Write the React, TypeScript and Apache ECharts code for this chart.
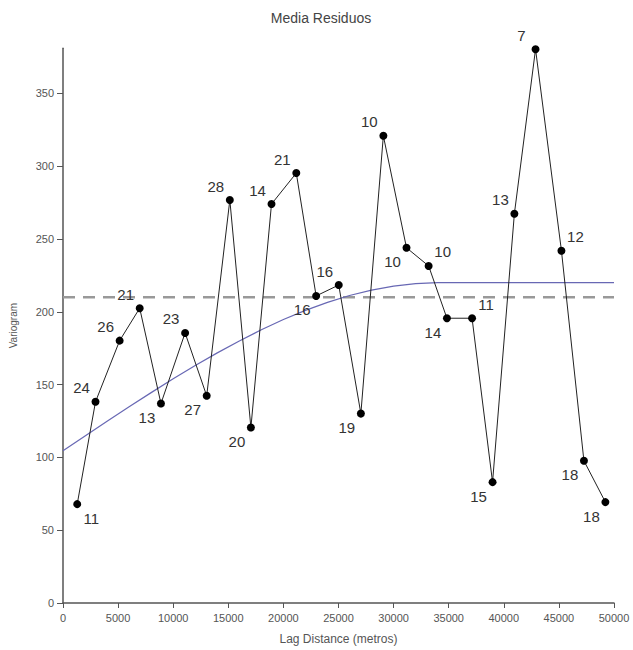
import React, { useEffect, useRef } from "react";
import * as echarts from "echarts";

// Experimental variogram
const lagDistance = [1290, 2950, 5140, 6960, 8890, 11080, 13040, 15140, 17050, 18920, 21170, 22970, 25020, 27030, 29070, 31170, 33180, 34840, 37120, 38980, 40960, 42880, 45230, 47270, 49220];
const semivariance = [67.9, 138.2, 180.2, 202.5, 137, 185.5, 142.3, 276.8, 120.5, 274, 295.3, 210.9, 218.4, 130.1, 320.9, 244, 231.5, 195.6, 195.6, 83, 267.4, 380.4, 242, 97.7, 69.3];
const pairCounts = [11, 24, 26, 21, 13, 23, 27, 28, 20, 14, 21, 16, 16, 19, 10, 10, 10, 14, 11, 15, 13, 7, 12, 18, 18];

// Fitted model curve
const modelLag = [0, 2000, 4000, 6000, 8000, 10000, 12000, 14000, 16000, 18000, 20000, 22000, 24000, 26000, 28000, 30000, 32000, 34000, 40000, 45000, 50000];
const modelGamma = [104.5, 114.7, 124.8, 134.8, 144.5, 154, 163.1, 171.8, 180, 187.7, 194.7, 201, 206.5, 211.2, 214.9, 217.7, 219.4, 220, 220, 220, 220];

// Sample variance (dashed line)
const sillLag = [0, 50000];
const sillGamma = [210, 210];

// Axis ticks
const yTicks = [0, 50, 100, 150, 200, 250, 300, 350];
const xTicks = [0, 5000, 10000, 15000, 20000, 25000, 30000, 35000, 40000, 45000, 50000];
const yMax = 381;

// Label placement around each point (layout only)
const LABEL_DIRS = ["dr", "ul", "ul", "ul", "dl", "ul", "dl", "ul", "dl", "ul", "ul", "dl", "ul", "dl", "ul", "dl", "ur", "dl", "ur", "dl", "ul", "ul", "ur", "dl", "dl"];
const DIR_OFFSETS: Record<string, number[]> = {
  ul: [-14, -14],
  dl: [-14, 14],
  ur: [14, -14],
  dr: [14, 14],
};
const SYMBOL = 8;

export default function App() {
  const ref = useRef<HTMLDivElement>(null);

  useEffect(() => {
    if (!ref.current) return;
    const chart = echarts.init(ref.current, null, { renderer: "svg" });
    const font = "'Liberation Sans', Arial, sans-serif";

    const pointData = lagDistance.map((x, i) => {
      const off = DIR_OFFSETS[LABEL_DIRS[i]];
      return {
        value: [x, semivariance[i]],
        label: {
          show: true,
          position: [SYMBOL / 2 + off[0], SYMBOL / 2 + off[1]],
          align: "center",
          verticalAlign: "middle",
          color: "#333",
          fontSize: 15,
          fontFamily: font,
          formatter: String(pairCounts[i]),
        },
      };
    });

    chart.setOption({
      animation: false,
      backgroundColor: "#ffffff",
      textStyle: { fontFamily: font },
      graphic: [
        {
          type: "text",
          x: 321,
          y: 18,
          style: {
            text: "Media Residuos",
            fontSize: 14,
            fontFamily: font,
            fill: "#444",
            textAlign: "center",
            textVerticalAlign: "middle",
          },
        },
      ],
      grid: { left: 59, right: 19, top: 48.3, bottom: 46.7, containLabel: false },
      xAxis: {
        type: "value",
        min: 0,
        max: 50000,
        interval: 5000,
        name: "Lag Distance (metros)",
        nameLocation: "middle",
        nameGap: 30,
        nameTextStyle: { fontSize: 12, color: "#555", fontFamily: font },
        axisLine: { show: true, onZero: false, lineStyle: { color: "#555", width: 1.5 } },
        axisTick: { show: true, length: 5, lineStyle: { color: "#555" }, customValues: xTicks },
        axisLabel: {
          fontSize: 11,
          color: "#555",
          margin: 9,
          customValues: xTicks,
          fontFamily: font,
          formatter: (v: number) => String(v),
        },
        splitLine: { show: false },
      },
      yAxis: {
        type: "value",
        min: 0,
        max: yMax,
        name: "Variogram",
        nameLocation: "middle",
        nameGap: 45,
        nameTextStyle: { fontSize: 10, color: "#555", fontFamily: font },
        axisLine: { show: true, onZero: false, lineStyle: { color: "#555", width: 1.5 } },
        axisTick: { show: true, length: 6, lineStyle: { color: "#555" }, customValues: yTicks },
        axisLabel: {
          fontSize: 11,
          color: "#555",
          margin: 9,
          customValues: yTicks,
          fontFamily: font,
          formatter: (v: number) => String(v),
        },
        splitLine: { show: false },
      },
      series: [
        {
          name: "sill",
          type: "line",
          data: sillLag.map((x, i) => [x, sillGamma[i]]),
          symbol: "none",
          lineStyle: { color: "#999", width: 2.5, type: [12, 8] },
          z: 1,
          silent: true,
        },
        {
          name: "model",
          type: "line",
          data: modelLag.map((x, i) => [x, modelGamma[i]]),
          symbol: "none",
          smooth: false,
          lineStyle: { color: "#6868b4", width: 1.2 },
          z: 2,
          silent: true,
        },
        {
          name: "experimental",
          type: "line",
          data: pointData,
          symbol: "circle",
          symbolSize: SYMBOL,
          itemStyle: { color: "#000" },
          lineStyle: { color: "#222", width: 1 },
          labelLayout: { hideOverlap: false },
          z: 3,
        },
      ],
    });

    return () => chart.dispose();
  }, []);

  return (
    <div
      ref={ref}
      style={{ position: "absolute", left: 0, top: 0, width: 633, height: 650 }}
    />
  );
}
